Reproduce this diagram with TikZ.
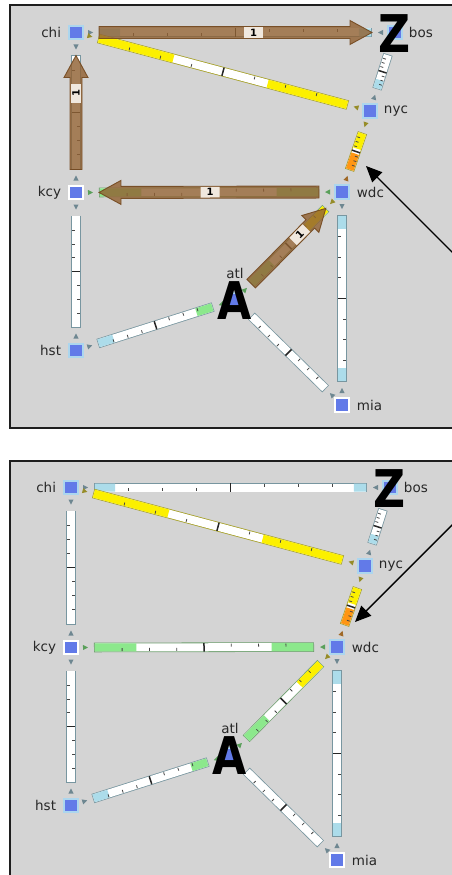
\documentclass[tikz,border=0pt]{standalone}
\usepackage{fontspec}
\setmainfont{DejaVu Sans}
\usetikzlibrary{calc,arrows.meta}
\definecolor{bggray}{RGB}{212,212,212}
\definecolor{frameline}{RGB}{30,30,30}
\definecolor{nodeblue}{RGB}{98,122,232}
\definecolor{nodering}{RGB}{172,214,238}
\definecolor{barline}{RGB}{120,150,160}
\definecolor{yellowline}{RGB}{165,160,40}
\definecolor{greenline}{RGB}{110,160,110}
\definecolor{lb}{RGB}{172,220,234}
\definecolor{yel}{RGB}{252,240,0}
\definecolor{org}{RGB}{255,150,20}
\definecolor{grn}{RGB}{140,232,140}
\definecolor{trigray}{RGB}{110,135,145}
\definecolor{triolive}{RGB}{150,140,40}
\definecolor{trigreen}{RGB}{90,160,90}
\definecolor{tribrown}{RGB}{160,105,40}
\definecolor{brownfill}{RGB}{145,98,52}
\definecolor{browndraw}{RGB}{115,72,30}
\definecolor{onefill}{RGB}{240,232,222}
\definecolor{tickc}{RGB}{70,70,70}
\definecolor{labeltext}{RGB}{40,40,40}
\newcommand{\barsh}{23pt}
% bar along a link: from node #1 to node #2, outline colour #3, segments #4
\newcommand{\linkbar}[4]{%
  \coordinate (ls) at ($(#1)!\barsh!(#2)$);
  \coordinate (le) at ($(#2)!\barsh!(#1)$);
  \coordinate (lis) at ($(ls)!0.8pt!(le)$);
  \coordinate (lie) at ($(le)!0.8pt!(ls)$);
  \draw[line width=9.6pt, #3] (ls) -- (le);
  \draw[line width=8pt, white] (lis) -- (lie);
  \foreach \ta/\tb/\tc in {#4}{\draw[line width=8pt, \tc] ($(lis)!\ta!(lie)$) -- ($(lis)!\tb!(lie)$);}
  \foreach \p in {0.125,0.25,0.375}{\path (lis) -- (lie) node[tickR,pos=\p]{};}
  \foreach \p in {0.625,0.75,0.875}{\path (lis) -- (lie) node[tickL,pos=\p]{};}
  \path (lis) -- (lie) node[midtick,pos=0.5]{};
}
% small direction triangle next to node #1 toward node #2
\newcommand{\ntri}[3]{%
  \coordinate (tb) at ($(#1)!12pt!(#2)$);
  \coordinate (tt) at ($(#1)!17pt!(#2)$);
  \fill[#3] (tt) -- ($(tb)!2.6pt!90:(tt)$) -- ($(tb)!2.6pt!-90:(tt)$) -- cycle;
}
% brown demand arrow from node #1 to node #2, label at pos #3
\newcommand{\demand}[3]{%
  \coordinate (ds) at ($(#1)!\barsh!(#2)$);
  \coordinate (dt) at ($(#2)!\barsh!(#1)$);
  \coordinate (dh) at ($(dt)!22pt!(ds)$);
  \filldraw[fill=brownfill, draw=browndraw, line width=0.9pt, fill opacity=0.82, draw opacity=0.9, line join=miter]
    ($(ds)!6pt!90:(dh)$) -- ($(dh)!6pt!-90:(ds)$) -- ($(dh)!12pt!-90:(ds)$) -- (dt)
    -- ($(dh)!12pt!90:(ds)$) -- ($(dh)!6pt!90:(ds)$) -- ($(ds)!6pt!-90:(dh)$) -- cycle;
  \path (ds) -- (dt) node[onebox,pos=#3]{1};
}
\newcommand{\netnodes}[1]{%
  \node[netnode, label={[nlabel,label distance=7pt]left:chi}] (#1chi) at (76,32.5) {};
  \node[netnode, label={[nlabel,label distance=6pt]right:bos}] (#1bos) at (395,32.5) {};
  \node[netnode, label={[nlabel,label distance=6pt]right:nyc}] (#1nyc) at (370,111) {};
  \node[netnode, whitering, label={[nlabel,label distance=7pt]left:kcy}] (#1kcy) at (76,192.5) {};
  \node[netnode, label={[nlabel,label distance=7pt]right:wdc}] (#1wdc) at (342,192) {};
  \node[netnode, label={[nlabel,label distance=13pt]above:atl}] (#1atl) at (235,300) {};
  \node[netnode, label={[nlabel,label distance=7pt]left:hst}] (#1hst) at (76,350.5) {};
  \node[netnode, whitering, label={[nlabel,label distance=7pt]right:mia}] (#1mia) at (342,405) {};
}
\newcommand{\netlinks}[1]{%
  \linkbar{#1chi}{#1bos}{barline}{0/0.075/lb, 0.955/1/lb}
  \linkbar{#1chi}{#1nyc}{yellowline}{0/0.3/yel, 0.68/1/yel}
  \linkbar{#1bos}{#1nyc}{barline}{0.75/1/lb}
  \linkbar{#1nyc}{#1wdc}{yellowline}{0/0.42/yel, 0.56/1/org}
  \linkbar{#1chi}{#1kcy}{barline}{0/0/white}
  \linkbar{#1kcy}{#1wdc}{greenline}{0/0.19/grn, 0.81/1/grn}
  \linkbar{#1kcy}{#1hst}{barline}{0/0/white}
  \linkbar{#1wdc}{#1mia}{barline}{0/0.08/lb, 0.92/1/lb}
  \linkbar{#1atl}{#1wdc}{greenline}{0/0.27/grn, 0.72/1/yel}
  \linkbar{#1hst}{#1atl}{barline}{0/0.13/lb, 0.86/1/grn}
  \linkbar{#1atl}{#1mia}{barline}{0/0/white}
}
\newcommand{\nettris}[1]{%
  \ntri{#1chi}{#1bos}{trigray}
  \ntri{#1chi}{#1nyc}{triolive}
  \ntri{#1chi}{#1kcy}{trigray}
  \ntri{#1bos}{#1chi}{trigray}
  \ntri{#1nyc}{#1bos}{trigray}
  \ntri{#1nyc}{#1chi}{triolive}
  \ntri{#1nyc}{#1wdc}{triolive}
  \ntri{#1wdc}{#1nyc}{tribrown}
  \ntri{#1wdc}{#1kcy}{trigreen}
  \ntri{#1wdc}{#1atl}{triolive}
  \ntri{#1wdc}{#1mia}{trigray}
  \ntri{#1kcy}{#1chi}{trigray}
  \ntri{#1kcy}{#1wdc}{trigreen}
  \ntri{#1kcy}{#1hst}{trigray}
  \ntri{#1hst}{#1kcy}{trigray}
  \ntri{#1hst}{#1atl}{trigray}
  \ntri{#1atl}{#1hst}{trigreen}
  \ntri{#1atl}{#1wdc}{trigreen}
  \ntri{#1atl}{#1mia}{trigray}
  \ntri{#1mia}{#1wdc}{trigray}
  \ntri{#1mia}{#1atl}{trigray}
}
\begin{document}
\begin{tikzpicture}[x=1pt,y=-1pt,
  netnode/.style={rectangle, fill=nodeblue, draw=nodering, line width=2pt, minimum size=13.5pt, inner sep=0pt},
  whitering/.style={draw=white},
  nlabel/.style={font=\fontsize{13.5}{14}\selectfont, text=labeltext, inner sep=0pt},
  tickR/.style={sloped, allow upside down, rectangle, fill=tickc, inner sep=0pt, minimum width=0.8pt, minimum height=3pt, anchor=north, outer ysep=0.6pt},
  tickL/.style={sloped, allow upside down, rectangle, fill=tickc, inner sep=0pt, minimum width=0.8pt, minimum height=3pt, anchor=south, outer ysep=0.6pt},
  midtick/.style={sloped, allow upside down, rectangle, fill=black!85, inner sep=0pt, minimum width=1.5pt, minimum height=8.5pt},
  onebox/.style={sloped, fill=onefill, inner sep=0pt, minimum width=19pt, minimum height=10.5pt, font=\fontsize{10}{10}\selectfont\bfseries},
  bigletter/.style={font=\fontsize{52}{52}\selectfont\bfseries, inner sep=0pt, text=black},
  note/.style={line width=1.4pt, -{Triangle[length=16pt,width=14pt]}}]
\useasboundingbox (0,0) rectangle (452,875);
\fill[white] (0,0) rectangle (452,875);
\fill[bggray] (10,5) rectangle (470,428);
\fill[bggray] (10,461) rectangle (470,890);
\draw[frameline, line width=1.8pt] (470,5) -- (10,5) -- (10,428) -- (470,428);
\draw[frameline, line width=1.8pt] (470,461) -- (10,461) -- (10,890);
% nodes
\netnodes{t}
\begin{scope}[shift={(-5,455)}]
\netnodes{b}
\end{scope}
% link bars
\netlinks{t}
\netlinks{b}
\nettris{t}
\nettris{b}
% demand arrows (top panel)
\demand{tchi}{tbos}{0.566}
\demand{tkcy}{tchi}{0.667}
\demand{twdc}{tkcy}{0.495}
\demand{tatl}{twdc}{0.65}
% big letters
\node[bigletter] (tZ) at ($(tbos)+(0,1.5)$) {\scalebox{0.85}[1]{Z}};
\node[bigletter] (tA) at ($(tatl)+(0,0.5)$) {\scalebox{0.85}[1]{A}};
\node[bigletter] (bZ) at ($(bbos)+(0,1.5)$) {\scalebox{0.85}[1]{Z}};
\node[bigletter] (bA) at ($(batl)+(0,0.5)$) {\scalebox{0.85}[1]{A}};
% annotation arrows
\coordinate (tnote0) at (462,262);
\coordinate (tnote) at (366,166);
\draw[note] (tnote0) -- (tnote);
\coordinate (bnote0) at (462,515);
\coordinate (bnote) at (355,622);
\draw[note] (bnote0) -- (bnote);
\end{tikzpicture}
\end{document}
